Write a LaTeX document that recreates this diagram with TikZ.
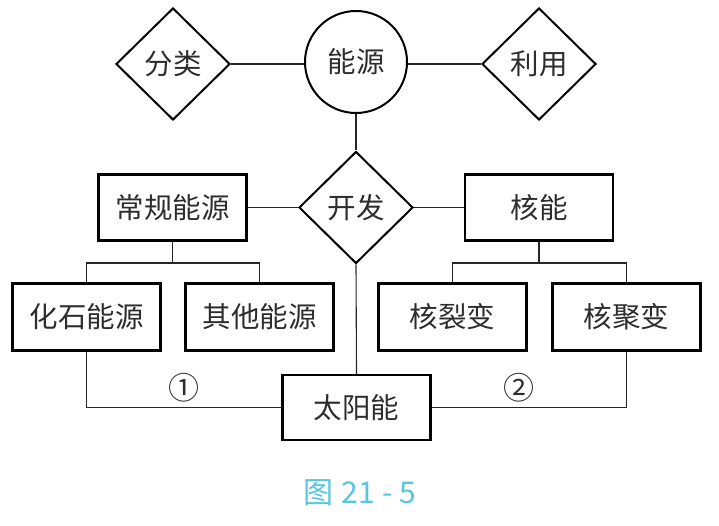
\documentclass[tikz,border=0pt]{standalone}
\usepackage{fontspec}
\setmainfont{Noto Sans CJK SC}
\usetikzlibrary{shapes.geometric}
\definecolor{capcyan}{RGB}{85,198,222}
\definecolor{txt}{RGB}{45,45,45}
\tikzset{
  lbl/.style={font=\fontsize{28.5}{31}\selectfont, text=txt},
  boxnode/.style={draw, line width=2.2pt, rectangle, minimum width=148pt, minimum height=66pt, inner sep=0pt, lbl},
  dia/.style={draw, line width=2pt, diamond, minimum width=114pt, minimum height=112pt, inner sep=0pt, lbl},
  circ/.style={draw, line width=2pt, circle, minimum size=102pt, inner sep=0pt, lbl},
  conn/.style={line width=1.1pt, draw=black!85},
  num/.style={font=\fontsize{31}{33}\selectfont, text=txt, inner sep=0pt}
}
\begin{document}
\begin{tikzpicture}[x=1pt,y=-1pt]
\useasboundingbox (0,0) rectangle (719,526);
\node[dia] (fenlei) at (173,64) {分类};
\node[circ] (nengyuan) at (356,62) {能源};
\node[dia] (liyong) at (539,64) {利用};
\node[dia] (kaifa) at (356,207.5) {开发};
\node[boxnode] (changgui) at (172.5,207.5) {常规能源};
\node[boxnode] (heneng) at (539,207.5) {核能};
\node[boxnode, minimum height=67pt] (huashi) at (86.5,317) {化石能源};
\node[boxnode, minimum height=67pt] (qita) at (259.5,317) {其他能源};
\node[boxnode, minimum height=67pt] (helie) at (452.5,317) {核裂变};
\node[boxnode, minimum height=67pt] (heju) at (626.5,317) {核聚变};
\node[boxnode, minimum height=65pt] (taiyang) at (356.5,407.5) {太阳能};
\coordinate (b1) at (172.5,263);
\coordinate (b2) at (539,263);
\draw[conn] (fenlei.east) -- (nengyuan.west |- fenlei.east);
\draw[conn] (nengyuan.east |- liyong.west) -- (liyong.west);
\draw[conn] (nengyuan.south) -- (kaifa.north);
\draw[conn] (changgui.east) -- (kaifa.west);
\draw[conn] (kaifa.east) -- (heneng.west);
\draw[conn] (kaifa.south) -- (taiyang.north);
\draw[conn] (changgui.south) -- (b1);
\draw[conn] (huashi.north) |- (b1) -| (qita.north);
\draw[conn] (heneng.south) -- (b2);
\draw[conn] (helie.north) |- (b2) -| (heju.north);
\draw[conn] (huashi.south) |- (taiyang.west);
\draw[conn] (heju.south) |- (taiyang.east);
\node[num] (n1) at (184,388) {①};
\node[num] (n2) at (519,388) {②};
\node[font=\fontsize{30}{32}\selectfont, text=capcyan] (cap) at (360,493) {图\hspace{8pt}21\hspace{7pt}-\hspace{7pt}5};
\end{tikzpicture}
\end{document}
